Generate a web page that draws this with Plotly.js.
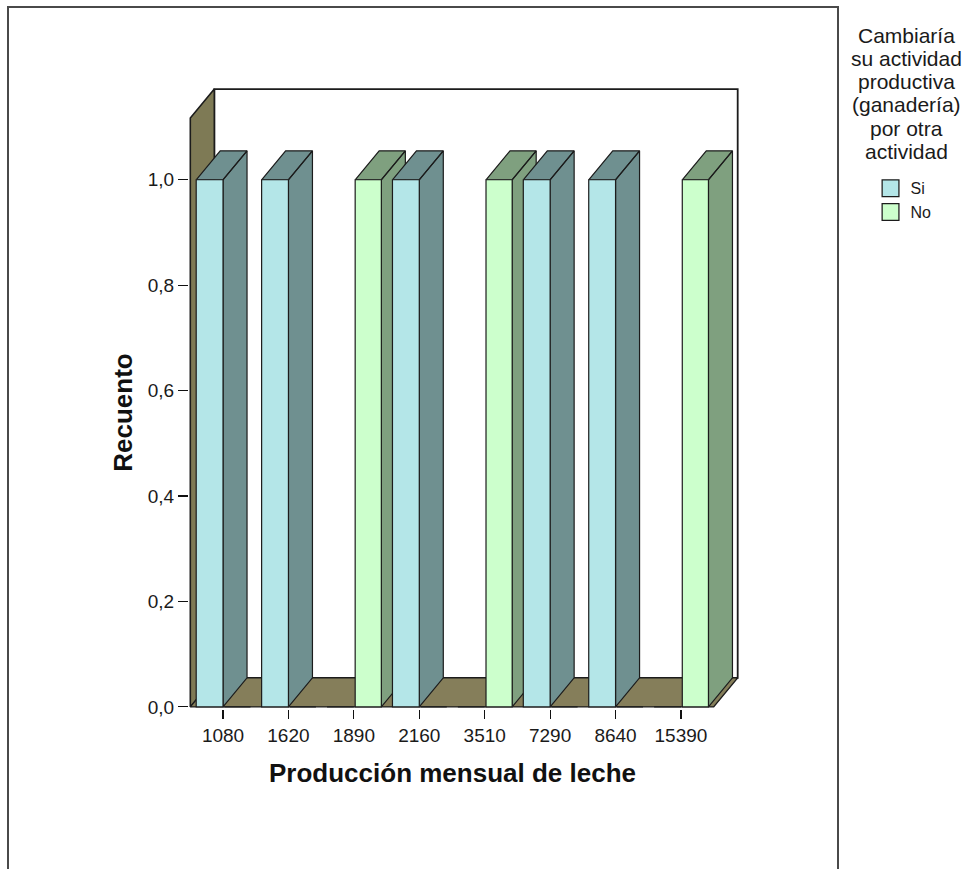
<!DOCTYPE html>
<html>
<head>
<meta charset="utf-8">
<script src="https://cdn.plot.ly/plotly-3.0.1.min.js"></script>
<style>
  html, body { margin: 0; padding: 0; background: #ffffff; }
  body { position: relative; width: 972px; height: 869px; overflow: hidden; }
  #frame { position: absolute; left: 7px; top: 6px; width: 832px; height: 920px;
           border: 2px solid #4a4a4a; box-sizing: border-box; }
  #chart { position: absolute; left: 0; top: 0; width: 972px; height: 869px; }
</style>
</head>
<body>
<div id="frame"></div>
<div id="chart"></div>
<script>
// Monthly milk production (categories) and counts per answer
const categories = ['1080', '1620', '1890', '2160', '3510', '7290', '8640', '15390'];
const si = [1, 1, 0, 1, 0, 1, 1, 0];
const no = [0, 0, 1, 0, 1, 0, 0, 1];
const seriesNames = ['Si', 'No'];
const yTickVals = [0, 0.2, 0.4, 0.6, 0.8, 1.0];
const legendTitleLines = ['Cambiaría', 'su actividad', 'productiva', '(ganadería)', 'por otra', 'actividad'];
const xTitle = 'Producción mensual de leche';
const yTitle = 'Recuento';

// ---- drawing style ----
const FONT = 'Liberation Sans, Arial, sans-serif';
const EDGE = '#1c1c1c';
const FRONT = ['#b4e6e8', '#ccffcc'];
const SHADE = ['#6f9090', '#7fa07f'];
const FLOOR = '#857e5a';
const WALL = '#7e7a55';

// oblique depth of the 3-D box, in axis units
const DX = 0.367;
const DY = 0.055;
const WALL_TOP = 1.117;
// bar slots inside each category: [offset, width]
const SLOT = [[-0.41, 0.41], [0.02, 0.40]];

// pixel scale of the axes and front-plane origin
const PXX = 65.4, PXY = 527.5;
const ORIGIN_X = 190, ORIGIN_Y = 707;
const PADX = 0.02, PADY = 0.004;
const W = 972, H = 869;

const n = categories.length;
const X0 = -0.5, X1 = n - 0.5;
const xRange = [X0 - PADX, X1 + DX + PADX];
const yRange = [-PADY, WALL_TOP + DY + PADY];
const L = ORIGIN_X - PADX * PXX;
const PW = (xRange[1] - xRange[0]) * PXX;
const B = H - ORIGIN_Y - PADY * PXY;
const PH = (yRange[1] - yRange[0]) * PXY;
const T = H - B - PH;
const R = W - L - PW;

const px2paperX = px => (px - L) / PW;
const px2paperY = py => (H - B - py) / PH;

function polyTrace(polys, fill, lineWidth) {
  const x = [], y = [];
  polys.forEach((p, k) => {
    if (k) { x.push(null); y.push(null); }
    p.forEach(pt => { x.push(pt[0]); y.push(pt[1]); });
    x.push(p[0][0]); y.push(p[0][1]);
  });
  return {
    type: 'scatter', mode: 'lines', x, y, fill: 'toself', fillcolor: fill,
    line: { color: EDGE, width: lineWidth || 1.2 }, hoverinfo: 'skip', showlegend: false,
    xaxis: 'x', yaxis: 'y'
  };
}

const traces = [];
// back wall, left wall and floor of the box
traces.push(polyTrace([[[X0 + DX, DY], [X1 + DX, DY], [X1 + DX, WALL_TOP + DY], [X0 + DX, WALL_TOP + DY]]], '#ffffff', 1.8));
traces.push(polyTrace([[[X0, 0], [X0, WALL_TOP], [X0 + DX, WALL_TOP + DY], [X0 + DX, DY]]], WALL, 1.6));
traces.push(polyTrace([[[X0, 0], [X1, 0], [X1 + DX, DY], [X0 + DX, DY]]], FLOOR, 1.4));

// side and top faces of each bar, left to right
const series = [si, no];
categories.forEach((c, i) => {
  series.forEach((vals, s) => {
    const v = vals[i];
    if (!v) return;
    const xl = i + SLOT[s][0];
    const xr = xl + SLOT[s][1];
    const side = [[xr, 0], [xr + DX, DY], [xr + DX, v + DY], [xr, v]];
    const top = [[xl, v], [xr, v], [xr + DX, v + DY], [xl + DX, v + DY]];
    traces.push(polyTrace([side, top], SHADE[s]));
  });
});

// front faces: ordinary bars on an overlaid copy of the axes
const idx = categories.map((c, i) => i);
series.forEach((vals, s) => {
  traces.push({
    type: 'bar', name: seriesNames[s], x: idx, y: vals,
    width: SLOT[s][1], offset: SLOT[s][0],
    marker: { color: FRONT[s], line: { color: EDGE, width: 1.2 } },
    xaxis: 'x2', yaxis: 'y2', hoverinfo: 'skip'
  });
});

const annotations = [];
legendTitleLines.forEach((t, k) => {
  annotations.push({
    text: t, xref: 'paper', yref: 'paper', x: px2paperX(906), y: px2paperY(35 + k * 23.2),
    xanchor: 'center', yanchor: 'middle', showarrow: false,
    font: { family: FONT, size: 21, color: '#1a1a1a' }
  });
});
annotations.push({
  text: '<b>' + xTitle + '</b>', xref: 'x', yref: 'paper', x: (n - 1) / 2, y: px2paperY(773),
  xanchor: 'center', yanchor: 'middle', showarrow: false,
  font: { family: FONT, size: 26, color: '#111' }
});
annotations.push({
  text: '<b>' + yTitle + '</b>', xref: 'paper', yref: 'y', x: px2paperX(122), y: WALL_TOP / 2,
  xanchor: 'center', yanchor: 'middle', textangle: -90, showarrow: false,
  font: { family: FONT, size: 26, color: '#111' }
});

const axisCommon = { showgrid: false, zeroline: false, showline: false, fixedrange: true };
const layout = {
  width: W, height: H,
  margin: { l: L, r: R, t: T, b: B, pad: 0 },
  paper_bgcolor: 'rgba(0,0,0,0)', plot_bgcolor: 'rgba(0,0,0,0)',
  separators: ',.',
  barmode: 'overlay',
  font: { family: FONT, color: '#1a1a1a' },
  xaxis: Object.assign({}, axisCommon, {
    range: xRange, tickmode: 'array', tickvals: idx, ticktext: categories,
    ticks: 'outside', ticklen: 9, tickwidth: 1.2, tickcolor: '#111',
    tickfont: { family: FONT, size: 19, color: '#1a1a1a' }
  }),
  yaxis: Object.assign({}, axisCommon, {
    range: yRange, tickmode: 'array', tickvals: yTickVals, tickformat: '.1f',
    ticks: 'outside', ticklen: 10, tickwidth: 1.2, tickcolor: '#111',
    tickfont: { family: FONT, size: 19, color: '#1a1a1a' }
  }),
  xaxis2: Object.assign({}, axisCommon, { overlaying: 'x', range: xRange, visible: false }),
  yaxis2: Object.assign({}, axisCommon, { overlaying: 'y', range: yRange, visible: false }),
  showlegend: true,
  legend: {
    x: px2paperX(870), y: px2paperY(171), xanchor: 'left', yanchor: 'top',
    bgcolor: 'rgba(0,0,0,0)', borderwidth: 0, traceorder: 'normal',
    font: { family: FONT, size: 16, color: '#1a1a1a' },
    itemwidth: 30, tracegroupgap: 0
  },
  annotations
};

Plotly.newPlot('chart', traces, layout, { displayModeBar: false, staticPlot: true }).then(gd => {
  // larger square swatches in the legend
  gd.querySelectorAll('.legend .legendpoints path').forEach(p => {
    const t = p.getAttribute('transform') || '';
    p.setAttribute('transform', t + ' scale(1.4)');
    p.style.strokeWidth = '0.9px';
  });
});
</script>
</body>
</html>
